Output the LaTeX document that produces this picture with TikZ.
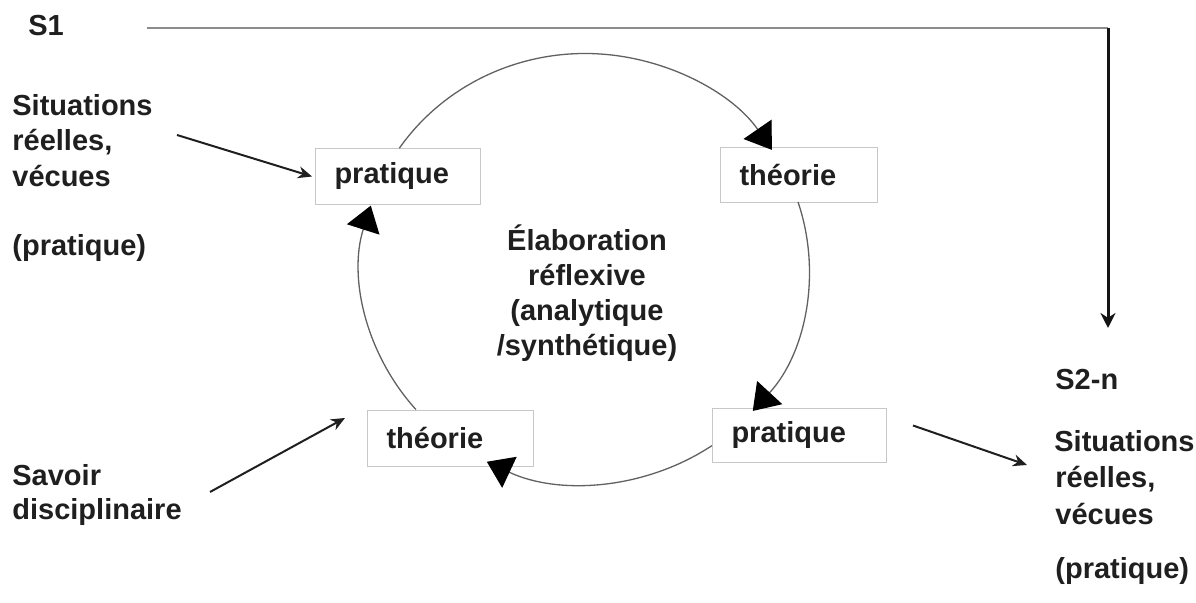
\documentclass[tikz,border=0pt]{standalone}
\usepackage{fontspec}
\setmainfont{Liberation Sans}
\usetikzlibrary{arrows.meta,calc}
\begin{document}
\begin{tikzpicture}[x=0.5pt,y=-0.5pt,
  every node/.style={font=\bfseries\fontsize{14.5pt}{17pt}\selectfont, text=black!88},
  lbl/.style={anchor=base west, inner sep=0pt},
  ctr/.style={anchor=base, inner sep=0pt},
  boxnode/.style={draw=black!22, line width=0.5pt, fill=white, anchor=north west, inner xsep=9.5pt, inner ysep=0pt, align=left},
  cyc/.style={draw=black!62, line width=0.65pt, -{Triangle[length=12.5pt,width=17pt,color=black]}},
  feed/.style={draw=black!88, line width=1pt, -{Stealth[length=7pt,width=6pt]}},
]
\useasboundingbox (0,0) rectangle (1196,603);

% left texts
\node[lbl] (s1) at (28,36) {S1};
\node[lbl] (sitL) at (12,116) {Situations};
\node[lbl] (reeL) at (12,151) {réelles,};
\node[lbl] (vecL) at (12,187) {vécues};
\node[lbl] (praL) at (12,256) {(pratique)};
\node[lbl] (sav) at (12,486) {Savoir};
\node[lbl] (dis) at (12,520) {disciplinaire};

% right texts
\node[lbl] (s2) at (1055,390) {S2-n};
\node[lbl] (sitR) at (1054,452) {Situations};
\node[lbl] (reeR) at (1055,488) {réelles,};
\node[lbl] (vecR) at (1055,525) {vécues};
\node[lbl] (praR) at (1055,579) {(pratique)};

% centre text
\node[ctr] (c1) at (587,251) {Élaboration};
\node[ctr] (c2) at (587,286) {réflexive};
\node[ctr] (c3) at (587,321) {(analytique};
\node[ctr] (c4) at (587,356) {/synthétique)};

% boxes
\node[boxnode, text width=63.5pt, minimum height=28pt] (P1) at (315,148) {pratique};
\node[boxnode, text width=59.5pt, minimum height=27.5pt] (T1) at (720,147) {théorie};
\node[boxnode, text width=68pt, minimum height=27pt] (P2) at (712,408) {pratique};
\node[boxnode, text width=64pt, minimum height=28pt] (T2) at (367,410) {théorie};

% cycle arcs
\coordinate (C) at (585,268.5);
\coordinate (a1) at ($(C)+(146:112pt and 107.5pt)$);
\coordinate (a2) at ($(C)+(18:112pt and 107.5pt)$);
\coordinate (a3) at ($(C)+(-55.5:112pt and 107.5pt)$);
\coordinate (a4) at ($(C)+(-139:112pt and 107.5pt)$);
\draw[cyc] (a1) arc[start angle=146, end angle=33.5, x radius=112pt, y radius=107.5pt];
\draw[cyc] (a2) arc[start angle=18, end angle=-41.5, x radius=112pt, y radius=107.5pt];
\draw[cyc] (a3) arc[start angle=-55.5, end angle=-116, x radius=112pt, y radius=107.5pt];
\draw[cyc] (a4) arc[start angle=-139, end angle=-197, x radius=112pt, y radius=107.5pt];

% feed arrows
\coordinate (fA) at (177,135);
\draw[feed] (fA) -- ([xshift=-1.5pt]P1.west);
\coordinate (fB) at (210,492);
\draw[feed] (fB) -- ([shift={(-11pt,-4pt)}]T2.north west);
\coordinate (fC) at ([shift={(13pt,5pt)}]P2.east);
\coordinate (fD) at (1027,465);
\draw[feed] (fC) -- (fD);

% S1 -> S2-n
\coordinate (s1start) at (147,28);
\coordinate (corner) at (1108,28);
\coordinate (s1end) at (1108,328);
\draw[draw=black!45, line width=0.75pt] (s1start) -- (corner);
\draw[draw=black!92, line width=1.5pt, -{Stealth[length=7.5pt,width=7.5pt]}] (corner) -- (s1end);
\end{tikzpicture}
\end{document}
